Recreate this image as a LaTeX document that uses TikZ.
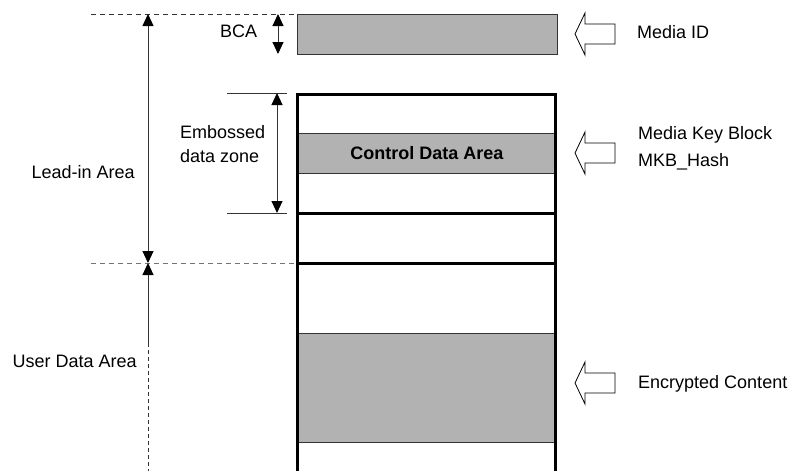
\documentclass[tikz,border=0pt]{standalone}
\usepackage{fontspec}
\setmainfont{Liberation Sans}
\usetikzlibrary{arrows.meta}
\definecolor{areagray}{gray}{0.7}
\definecolor{inkgray}{gray}{0.2}
\definecolor{guidegray}{gray}{0.45}
\begin{document}
\begin{tikzpicture}[x=1pt,y=-1pt,
  label text/.style={inner sep=0pt, anchor=base west, align=left,
    font=\fontsize{18}{24}\selectfont},
  filled area/.style={fill=areagray, draw=inkgray, line width=1pt,
    inner sep=0pt, anchor=north west, font=\fontsize{18}{24}\selectfont\bfseries},
  wall/.style={line width=3pt, line join=miter},
  thin line/.style={line width=1pt, draw=inkgray},
  tip/.tip={Triangle[length=12pt,width=11pt,color=black]},
  span/.style={thin line, tip-tip},
  pointer/.style={thin line, -tip},
  guide/.style={line width=1pt, dash pattern=on 5pt off 4pt},
  hollow arrow/.pic={
    \draw[line width=0.8pt, fill=white]
      (0,0) -- (10,-21) -- (10,-10) -- (40,-10) -- (40,10) -- (10,10) -- (10,21) -- cycle;
  }]
\useasboundingbox (0,0) rectangle (794,471);

% ---- disc layout column ----
\node[filled area, minimum width=260pt, minimum height=40pt] (bca) at (297,14) {};
\node[filled area, minimum width=258pt, minimum height=40pt] (cda) at (297.5,133) {Control Data Area};
\node[filled area, minimum width=258pt, minimum height=109pt] (content) at (297.5,333) {};

\coordinate (colBL) at (297.5,471);
\coordinate (colTL) at (297.5,94);
\coordinate (colTR) at (555.5,94);
\coordinate (colBR) at (555.5,471);
\draw[wall] (colBL) -- (colTL) -- (colTR) -- (colBR);

\coordinate (embL) at (297.5,213);
\coordinate (embR) at (555.5,213);
\coordinate (leadL) at (297.5,263);
\coordinate (leadR) at (555.5,263);
\draw[wall] (embL) -- (embR);
\draw[wall] (leadL) -- (leadR);

% ---- boundary guides ----
\coordinate (topGuide) at (91,14);
\coordinate (midGuide) at (91,263);
\draw[guide, draw=inkgray] (topGuide) -- (bca.north west);
\draw[guide, draw=guidegray] (midGuide) -- (leadL);

% ---- lead-in / user data spans ----
\coordinate (leadTop) at (148,14);
\coordinate (leadBot) at (148,263);
\draw[span] (leadTop) -- (leadBot);

\coordinate (userTop) at (148,263);
\coordinate (userMid) at (148,343);
\coordinate (userEnd) at (148,471);
\draw[pointer] (userMid) -- (userTop);
\draw[guide, draw=inkgray, dash pattern=on 4pt off 3pt] (userMid) -- (userEnd);

% ---- BCA span ----
\coordinate (bcaTop) at (278,14);
\coordinate (bcaBot) at (278,54);
\draw[span] (bcaTop) -- (bcaBot);

% ---- embossed data zone span ----
\coordinate (embTickTopL) at (227,93);
\coordinate (embTickTopR) at (287,93);
\coordinate (embTickBotL) at (227,213);
\coordinate (embTickBotR) at (287,213);
\draw[thin line] (embTickTopL) -- (embTickTopR);
\draw[thin line] (embTickBotL) -- (embTickBotR);
\coordinate (embTop) at (277,93);
\coordinate (embBot) at (277,213);
\draw[span] (embTop) -- (embBot);

% ---- labels ----
\node[label text] (bcaLabel) at (220,37) {BCA};
\node[label text] (leadLabel) at (31.5,178) {Lead-in Area};
\node[label text] (embLabel) at (180,162) {Embossed\\data zone};
\node[label text] (userLabel) at (12.5,367) {User Data Area};

% ---- data sources ----
\pic (idArrow) at (575,34) {hollow arrow};
\pic (mkbArrow) at (575,153) {hollow arrow};
\pic (encArrow) at (575,383) {hollow arrow};
\node[label text] (idLabel) at (637,38) {Media ID};
\node[label text, font=\fontsize{18}{27}\selectfont] (mkbLabel) at (638,166) {Media Key Block\\MKB\_Hash};
\node[label text] (encLabel) at (638,388) {Encrypted Content};
\end{tikzpicture}
\end{document}
